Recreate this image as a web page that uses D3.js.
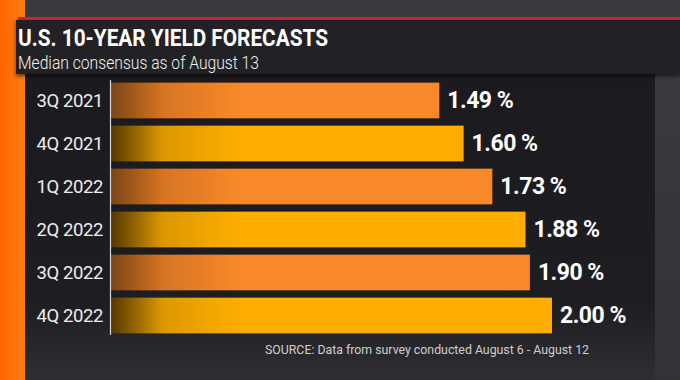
<!DOCTYPE html>
<html><head><meta charset="utf-8">
<script src="https://cdn.jsdelivr.net/npm/d3@7"></script>
<style>html,body{margin:0;padding:0;background:#2c2c31;overflow:hidden}svg{display:block}</style>
</head><body>
<svg id="c" width="680" height="380"></svg>
<script>
const categories = ["3Q 2021","4Q 2021","1Q 2022","2Q 2022","3Q 2022","4Q 2022"];
const values = [1.49, 1.60, 1.73, 1.88, 1.90, 2.00];
const valueLabels = ["1.49 %","1.60 %","1.73 %","1.88 %","1.90 %","2.00 %"];
const titleText = "U.S. 10-YEAR YIELD FORECASTS";
const subtitleText = "Median consensus as of August 13";
const sourceText = "SOURCE: Data from survey conducted August 6 - August 12";

const svg = d3.select("#c");
const defs = svg.append("defs");
const font = "Roboto, 'Liberation Sans', Arial, sans-serif";

function lg(id, stops, x1, x2, y1, y2, units) {
  const g = defs.append("linearGradient").attr("id", id)
    .attr("x1", x1).attr("x2", x2).attr("y1", y1).attr("y2", y2);
  if (units) g.attr("gradientUnits", units);
  stops.forEach(s => g.append("stop").attr("offset", s[0]).attr("stop-color", s[1]));
}
lg("gOrange", [[0, "#7a4516"], [0.4, "#d77422"], [1, "#f7892a"]], 111, 240, 0, 0, "userSpaceOnUse");
lg("gYellow", [[0, "#553700"], [0.4, "#dc9800"], [1, "#ffae00"]], 111, 240, 0, 0, "userSpaceOnUse");
lg("gLeft", [[0, "#ff6400"], [1, "#ff7d12"]], "0", "1", "0", "0");
lg("gPanel", [[0, "#1b1b1f"], [0.75, "#1e1e22"], [1, "#2e2e33"]], "0", "0", "0", "1");
lg("gRight", [[0, "#3b3b40"], [1, "#323237"]], "0", "0", "0", "1");
const sh = defs.append("filter").attr("id", "sh").attr("x", "-5%").attr("y", "-20%").attr("width", "110%").attr("height", "150%");
sh.append("feDropShadow").attr("dx", 0).attr("dy", 2).attr("stdDeviation", 2).attr("flood-color", "#000").attr("flood-opacity", 0.6);

svg.append("rect").attr("x", 0).attr("y", 0).attr("width", 680).attr("height", 380).attr("fill", "#2e2e33");
svg.append("rect").attr("x", 0).attr("y", 0).attr("width", 680).attr("height", 18).attr("fill", "#3a3a40");
svg.append("rect").attr("x", 655).attr("y", 20).attr("width", 25).attr("height", 360).attr("fill", "url(#gRight)");
svg.append("rect").attr("x", 25).attr("y", 72).attr("width", 630).attr("height", 308).attr("fill", "url(#gPanel)");
svg.append("rect").attr("x", 0).attr("y", 0).attr("width", 25).attr("height", 380).attr("fill", "url(#gLeft)");
svg.append("rect").attr("x", 18).attr("y", 17).attr("width", 662).attr("height", 3).attr("fill", "#c8262c");
svg.append("rect").attr("x", 16).attr("y", 20).attr("width", 664).attr("height", 54).attr("fill", "#242428").attr("filter", "url(#sh)");

svg.append("text").attr("x", 18).attr("y", 45.5).attr("fill", "#ffffff")
  .attr("font-family", font).attr("font-weight", 700).attr("font-size", 24.5)
  .attr("textLength", 310).attr("lengthAdjust", "spacingAndGlyphs").text(titleText);
svg.append("text").attr("x", 18).attr("y", 69).attr("fill", "#f2f2f2")
  .attr("font-family", font).attr("font-weight", 300).attr("font-size", 19)
  .attr("textLength", 241).attr("lengthAdjust", "spacingAndGlyphs").text(subtitleText);

const x = d3.scaleLinear().domain([0, 2]).range([110, 552]);
const y = d3.scaleBand().domain(categories).range([79, 337]).paddingInner(0.17).paddingOuter(0.085);

svg.append("g").selectAll("rect").data(categories).join("rect")
  .attr("x", x(0) + 1)
  .attr("y", d => y(d))
  .attr("width", (d, i) => x(values[i]) - x(0) - 1)
  .attr("height", y.bandwidth())
  .attr("fill", (d, i) => i % 2 === 0 ? "url(#gOrange)" : "url(#gYellow)");

const yAxis = d3.axisLeft(y).tickSize(0).tickPadding(7);
const ga = svg.append("g").attr("transform", `translate(${x(0)},0)`).call(yAxis);
ga.select(".domain").attr("stroke", "#d8d8d8").attr("stroke-width", 1.2)
  .attr("d", `M0.5,80V335`);
ga.selectAll("text").attr("fill", "#eeeeee").attr("font-family", font)
  .attr("font-size", 18.5).attr("dy", "0.36em").attr("letter-spacing", -0.4);

svg.append("g").selectAll("text").data(categories).join("text")
  .attr("x", (d, i) => x(values[i]) + 8)
  .attr("y", d => y(d) + y.bandwidth() / 2 + 7.5)
  .attr("fill", "#ffffff").attr("font-family", font).attr("font-weight", 700)
  .attr("font-size", 23).attr("letter-spacing", -0.5)
  .text((d, i) => valueLabels[i]);

svg.append("text").attr("x", 265).attr("y", 354).attr("fill", "#cfcfcf")
  .attr("font-family", font).attr("font-size", 13.5)
  .attr("textLength", 324).attr("lengthAdjust", "spacingAndGlyphs").text(sourceText);
</script>
</body></html>
